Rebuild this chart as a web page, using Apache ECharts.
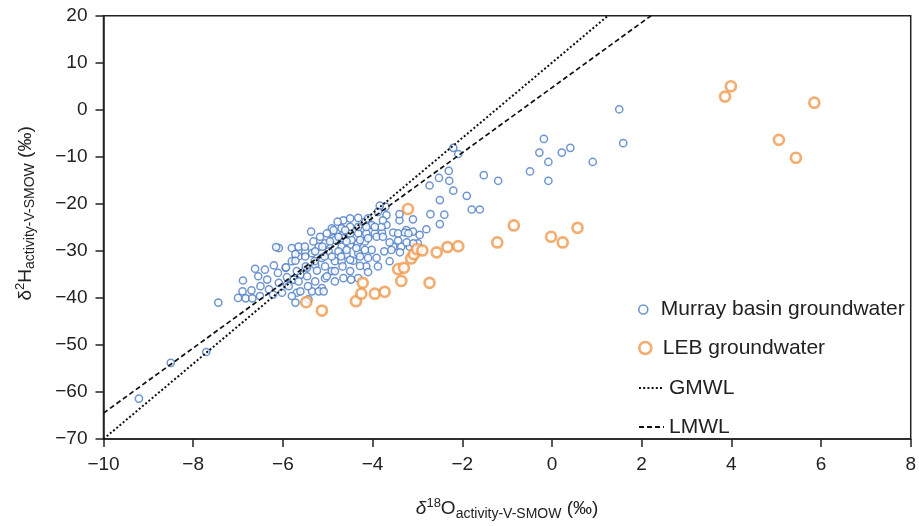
<!DOCTYPE html>
<html><head><meta charset="utf-8">
<script src="https://cdn.jsdelivr.net/npm/echarts@6/dist/echarts.min.js"></script>
<style>html,body{margin:0;padding:0;background:#fff}#c{width:919px;height:526px}</style>
</head><body><div id="c"></div>
<script>
// δ18O (x), δ2H (y) values
const murray = [
[-9.21,-61.4],[-8.50,-53.8],[-7.71,-51.5],[1.50,0.1],[1.59,-7.1],[0.22,-9.1],[0.41,-8.1],[0.91,-11.1],
[-0.18,-6.2],[-0.28,-9.1],[-0.08,-11.1],[-0.49,-13.1],[-0.08,-15.1],[-1.20,-15.1],[-1.52,-13.9],
[-2.20,-8.1],[-2.09,-9.4],[-2.30,-13.0],[-2.29,-15.1],[-2.52,-14.5],[-2.20,-17.2],[-1.90,-18.3],
[-2.50,-19.2],[-1.79,-21.2],[-1.61,-21.2],[-2.40,-22.3],[-2.50,-24.3],[-2.73,-16.1],[-2.71,-22.2],[-2.80,-25.4],
[-3.10,-23.3],[-3.25,-25.6],[-3.40,-23.5],[-3.71,-20.6],[-3.69,-22.4],[-3.84,-20.4],[-3.88,-21.7],[-4.32,-23.0],
[-4.65,-23.5],[-4.78,-23.8],[-4.91,-25.2],[-5.37,-25.9],[-4.16,-23.8],[-4.02,-24.5],[-4.23,-25.2],[-4.14,-26.3],
[-3.95,-26.3],[-3.79,-26.1],[-3.69,-24.5],[-3.54,-26.1],[-3.43,-26.3],[-3.28,-26.1],[-3.10,-25.9],[-2.95,-26.6],
[-2.99,-28.4],[-3.17,-29.1],[-3.36,-29.1],[-3.54,-29.1],[-3.74,-30.1],[-3.62,-32.2],[-3.91,-31.5],[-3.88,-33.3],
[-4.10,-31.5],[-4.14,-33.3],[-4.32,-30.5],[-4.43,-32.1],[-4.58,-30.8],[-4.69,-29.1],[-4.50,-28.7],[-4.33,-28.4],
[-4.17,-28.0],[-4.02,-29.8],[-4.50,-34.3],[-4.65,-35.8],[-4.48,-36.1],[-4.32,-35.8],[-4.84,-32.2],[-4.91,-34.3],
[-5.06,-35.8],[-5.13,-37.9],[-5.28,-36.5],[-5.35,-38.6],[-5.69,-38.9],[-5.72,-41.0],[-5.43,-40.3],[-6.09,-29.4],
[-5.80,-29.4],[-5.65,-31.2],[-5.50,-30.1],[-5.35,-30.5],[-5.20,-29.1],[-5.06,-28.4],[-4.87,-27.3],[-4.65,-26.3],
[-4.50,-26.3],[-4.32,-26.3],[-4.98,-30.1],[-5.13,-31.5],[-5.28,-33.0],[-5.46,-33.6],[-5.61,-35.1],[-5.76,-36.1],
[-5.91,-37.2],[-5.94,-33.6],[-5.80,-32.2],
[-4.28,-33.2],[-4.84,-36.5],[-4.69,-32.2],[-4.50,-31.9],[-4.28,-31.2],[-4.17,-29.8],[-4.36,-29.4],[-4.58,-29.8],
[-4.76,-30.1],[-4.91,-31.2],[-4.84,-27.7],[-4.65,-27.3],[-4.47,-27.7],[-4.28,-27.7],[-4.10,-27.3],[-3.91,-27.0],
[-3.77,-27.0],[-3.80,-24.9],[-3.95,-24.9],[-4.14,-24.9],[-4.32,-24.9],[-4.50,-24.9],[-4.69,-25.2],[-4.87,-25.6],
[-4.50,-23.1],[-4.10,-23.1],[-3.77,-23.5],[-3.40,-22.2],[-3.20,-26.3],[-3.39,-30.3],[-3.58,-29.8],[-4.10,-34.5],
[-3.24,-28.2],[-3.09,-28.4],[-3.43,-27.8],[-3.62,-28.2],
[-7.44,-41.0],[-7.00,-40.0],[-6.90,-38.6],[-6.89,-36.3],[-6.83,-40.1],[-6.70,-38.4],[-6.68,-40.1],[-6.62,-33.8],
[-6.55,-35.4],[-6.50,-37.5],[-6.51,-39.6],[-6.40,-34.0],[-6.35,-36.1],[-6.31,-38.2],[-6.22,-39.3],[-6.20,-33.1],
[-6.15,-29.2],[-6.11,-34.7],[-6.09,-36.8],[-6.02,-38.9],[-5.93,-33.5],[-5.91,-35.6],[-5.87,-37.5],[-5.80,-39.6],
[-5.72,-30.7],[-5.72,-32.1],[-5.69,-34.3],[-5.65,-36.5],[-5.61,-38.6],[-5.65,-29.1],[-5.51,-29.1],[-5.50,-31.2],
[-5.49,-33.3],[-5.46,-35.4],[-5.44,-37.5],[-5.32,-28.0],[-5.28,-30.1],[-5.29,-32.2],[-5.24,-34.2],[-5.20,-38.6],
[-5.17,-27.0],[-5.12,-29.1],[-5.07,-31.2],[-5.06,-33.3],[-5.02,-35.4],[-5.09,-38.6],[-5.02,-26.3],[-4.95,-28.0],
[-4.84,-34.3],[-4.76,-27.0],[-4.70,-31.2],[-4.67,-33.3],[-4.61,-25.6],[-4.58,-28.0]
];
const leb = [
[-5.48,-40.9],[-5.13,-42.7],[-4.37,-40.7],[-4.22,-36.8],[-4.25,-39.1],[-3.95,-39.1],[-3.73,-38.7],
[-3.43,-33.9],[-3.30,-33.6],[-3.36,-36.4],[-3.14,-31.6],[-3.08,-30.7],[-3.01,-29.6],[-2.89,-29.9],
[-2.73,-36.8],[-2.57,-30.3],[-2.33,-29.2],[-2.09,-29.0],[-3.21,-21.1],[-1.22,-28.2],[-0.85,-24.6],
[-0.02,-27.0],[0.24,-28.2],[0.57,-25.1],[3.86,2.8],[3.99,5.0],[5.85,1.5],[5.06,-6.4],[5.44,-10.2]
];
const gmwl = [[-10,-70],[1.25,20]];
const lmwl = [[-10,-64.5],[2.21,20]];

const FONT = 'Liberation Sans';
const BLUE = '#4a7bc6', ORANGE = '#f0984e', INK = '#222';
const minus = v => String(v).replace('-', '\u2212');
const hidden = {color: 'rgba(0,0,0,0)', borderColor: 'rgba(0,0,0,0)', borderWidth: 0, opacity: 0};

const chart = echarts.init(document.getElementById('c'), null, {renderer: 'canvas'});
const legendBase = {orient: 'vertical', left: 633, itemWidth: 25, itemGap: 0,
  textStyle: {fontFamily: FONT, fontSize: 21, color: INK}, selectedMode: false};
const rich = (italic) => ({
  d: {fontFamily: FONT, fontSize: 19, fontStyle: italic ? 'italic' : 'normal', color: INK, lineHeight: 24, verticalAlign: 'middle'},
  m: {fontFamily: FONT, fontSize: 19, color: INK, lineHeight: 24, verticalAlign: 'middle'},
  sup: {fontFamily: FONT, fontSize: 13, color: INK, lineHeight: 14, verticalAlign: 'top'},
  sub: {fontFamily: FONT, fontSize: 14, color: INK, lineHeight: 14, verticalAlign: 'bottom'}
});
chart.setOption({
  animation: false,
  backgroundColor: '#fff',
  grid: {left: 103.5, right: 3, top: 15.7, bottom: 83.7, show: true, borderColor: INK, borderWidth: 1.5, containLabel: false},
  xAxis: {
    type: 'value', min: -10, max: 8, interval: 2,
    axisLine: {show: true, onZero: false, lineStyle: {color: INK, width: 1.5}},
    axisTick: {show: true, inside: false, length: 8, lineStyle: {color: INK, width: 1.5}},
    splitLine: {show: false},
    axisLabel: {formatter: minus, fontFamily: FONT, fontSize: 19, color: INK, margin: 16},
    name: '{d|δ}{sup|18}{m|O}{sub|activity-V-SMOW}{m| (‰)}',
    nameLocation: 'middle', nameGap: 58,
    nameTextStyle: {rich: rich(true)}
  },
  yAxis: {
    type: 'value', min: -70, max: 20, interval: 10,
    axisLine: {show: true, onZero: false, lineStyle: {color: INK, width: 1.5}},
    axisTick: {show: true, inside: false, length: 8, lineStyle: {color: INK, width: 1.5}},
    splitLine: {show: false},
    axisLabel: {formatter: minus, fontFamily: FONT, fontSize: 19, color: INK, margin: 16},
    name: '{d|δ}{sup|2}{m|H}{sub|activity-V-SMOW}{m| (‰)}',
    nameLocation: 'middle', nameGap: 66, nameRotate: 90,
    nameTextStyle: {padding: [0, 0, 0, 28], rich: rich(false)}
  },
  legend: [
    Object.assign({}, legendBase, {top: 294, itemHeight: 9, data: [{name: 'Murray basin groundwater', itemStyle: {borderWidth: 1.6}}]}),
    Object.assign({}, legendBase, {top: 332.5, itemHeight: 12, data: [{name: 'LEB groundwater', itemStyle: {borderWidth: 2.6}}]}),
    Object.assign({}, legendBase, {top: 372.5, itemHeight: 14, data: [{name: 'GMWL', itemStyle: hidden}]}),
    Object.assign({}, legendBase, {top: 411.5, itemHeight: 14, data: [{name: 'LMWL', itemStyle: hidden}]})
  ],
  series: [
    {name: 'Murray basin groundwater', type: 'scatter', data: murray, symbol: 'circle', symbolSize: 7.2,
     itemStyle: {color: '#fff', borderColor: BLUE, borderWidth: 1.5}, z: 2},
    {name: 'LEB groundwater', type: 'scatter', data: leb, symbol: 'circle', symbolSize: 10,
     itemStyle: {color: '#fff', borderColor: ORANGE, borderWidth: 2.7}, z: 3},
    {name: 'GMWL', type: 'line', data: gmwl, symbol: 'none', z: 4, itemStyle: {color: 'rgba(0,0,0,0)'},
     lineStyle: {color: '#111', width: 2, type: [2, 2.2]}},
    {name: 'LMWL', type: 'line', data: lmwl, symbol: 'none', z: 4, itemStyle: {color: 'rgba(0,0,0,0)'},
     lineStyle: {color: '#111', width: 1.7, type: [5, 3]}}
  ]
});
</script></body></html>
